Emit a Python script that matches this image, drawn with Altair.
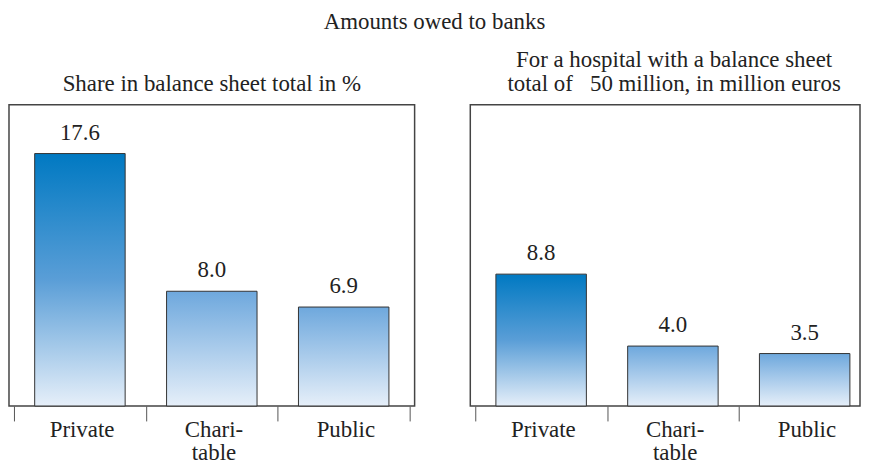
import altair as alt
import pandas as pd

# ---------------- data ----------------
categories = ["Private", "Charitable", "Public"]
axis_labels = [["Private"], ["Chari-", "table"], ["Public"]]
share_pct = [17.6, 8.0, 6.9]
amount_mio = [8.8, 4.0, 3.5]
tick_values = [0, 1, 2, 3]

main_title = "Amounts owed to banks"
left_title = "Share in balance sheet total in %"
right_title = ["For a hospital with a balance sheet",
               "total of\u00a0\u00a0 50 million, in million euros"]

# ---------------- style ----------------
FONT = "Liberation Serif"
TEXT = "#222222"
FS = 23
H = 303
STEP = 136

grad_dark = alt.LinearGradient(
    gradient="linear", x1=0, x2=0, y1=0, y2=1,
    stops=[alt.GradientStop(offset=0, color="#0079c2"),
           alt.GradientStop(offset=0.5, color="#5a9ed7"),
           alt.GradientStop(offset=1, color="#e6eff9")])
grad_light = alt.LinearGradient(
    gradient="linear", x1=0, x2=0, y1=0, y2=1,
    stops=[alt.GradientStop(offset=0, color="#6ea8dd"),
           alt.GradientStop(offset=1, color="#e6eff9")])

# label expression built from axis_labels
parts = []
for i, lab in enumerate(axis_labels):
    arr = "[" + ",".join("'" + s + "'" for s in lab) + "]"
    parts.append(f"datum.value == {i} ? {arr} : ")
label_expr = "".join(parts) + "''"


def panel(values, title, ymax, width, ticks, title_dx=0):
    df = pd.DataFrame({
        "cat": categories,
        "value": values,
        "pos": [i + 0.5 for i in range(len(categories))],
        "label": [f"{v:.1f}" for v in values],
    })
    xaxis = alt.Axis(values=ticks, tickSize=15, tickColor="#555555",
                     tickWidth=1, domain=False, grid=False,
                     labelExpr=label_expr, labelOffset=STEP / 2,
                     labelFlush=False, labelOverlap=False,
                     labelFont=FONT, labelFontSize=FS, labelColor=TEXT,
                     labelPadding=-2, labelLineHeight=23, title=None)
    x = alt.X("pos:Q",
              scale=alt.Scale(domain=[0, width / STEP], nice=False, zero=False),
              axis=xaxis)
    y = alt.Y("value:Q", scale=alt.Scale(domain=[0, ymax], nice=False),
              axis=None)
    base = alt.Chart(df).encode(x=x, y=y)
    dark = base.mark_bar(size=91, fill=grad_dark, stroke="#333333",
                         strokeWidth=1).transform_filter(alt.datum.cat == "Private")
    light = base.mark_bar(size=91, fill=grad_light, stroke="#333333",
                          strokeWidth=1).transform_filter(alt.datum.cat != "Private")
    txt = base.mark_text(font=FONT, fontSize=FS, color=TEXT,
                         baseline="alphabetic", dy=-14).encode(text="label:N")
    return alt.layer(dark, light, txt).properties(
        width=width, height=H,
        title=alt.TitleParams(text=title, offset=9, lineHeight=24, dx=title_dx))


left = panel(share_pct, left_title, 21.0, 408, tick_values)
right = panel(amount_mio, right_title, 20.1, 392, tick_values[:3], title_dx=9)

chart = alt.hconcat(left, right, spacing=56, bounds="flush").properties(
    title=alt.TitleParams(text=main_title, offset=14),
    padding={"left": 0, "top": 2, "right": 0, "bottom": 0},
).configure_view(stroke="#444444", strokeWidth=1.5).configure_title(
    font=FONT, fontSize=FS, fontWeight="normal", color=TEXT, anchor="middle")

chart.save("out.html", embed_options={"renderer": "svg", "actions": False})
